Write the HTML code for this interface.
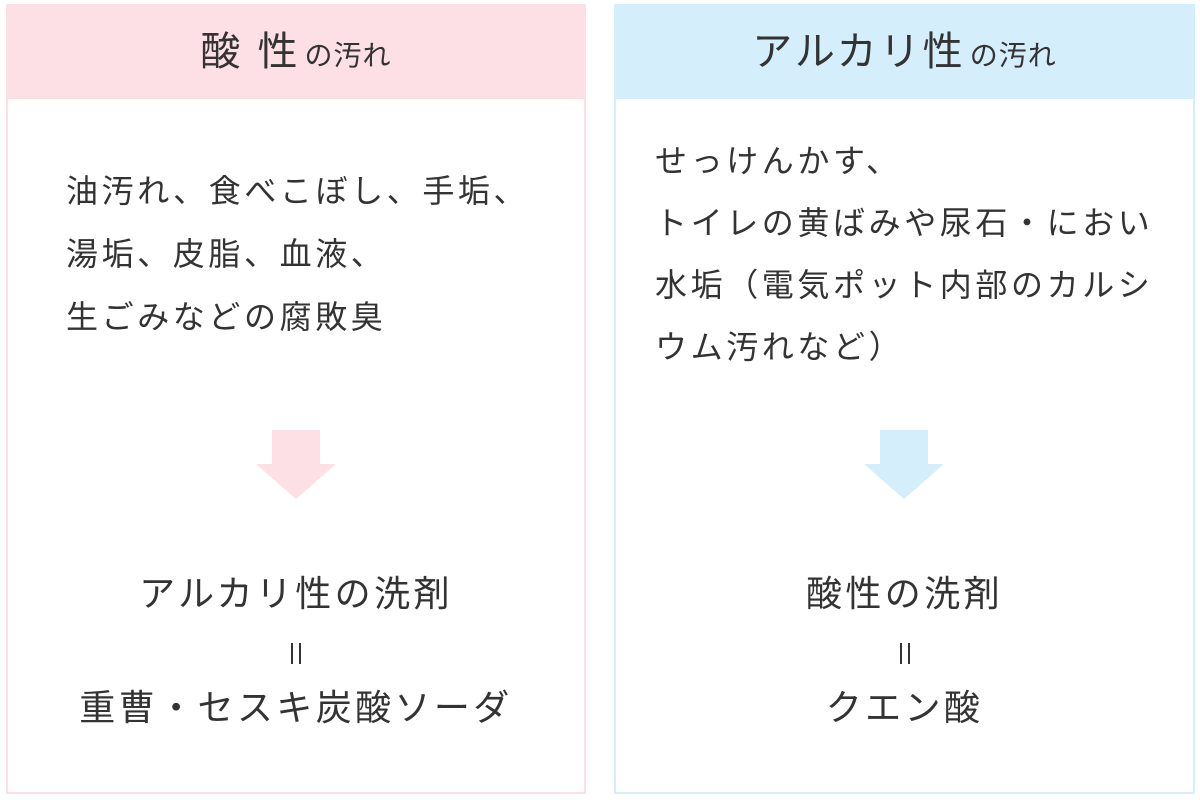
<!DOCTYPE html>
<html><head><meta charset="utf-8"><style>
html,body{margin:0;padding:0;background:#fff;}
body{width:1200px;height:800px;position:relative;overflow:hidden;font-family:"Liberation Sans","Noto Sans CJK JP",sans-serif;color:#333;}
.box{position:absolute;top:4px;height:790px;box-sizing:border-box;border:2px solid;}
.l{left:6px;width:580px;border-color:#fde0e6;}
.r{left:614px;width:581px;border-color:#d4eefb;}
.hd{position:absolute;left:-2px;right:-2px;top:-2px;height:95px;display:flex;align-items:baseline;justify-content:center;padding-top:24px;box-sizing:border-box;}
.l .hd{background:#fde0e6;}
.r .hd{background:#d4eefb;}
.big{font-size:40px;letter-spacing:3px;line-height:48px;}
.sm{font-size:28px;margin-left:4px;letter-spacing:1px;}
.t{position:absolute;white-space:nowrap;font-size:32px;letter-spacing:3.6px;line-height:62px;}
.res{position:absolute;text-align:center;font-size:36px;letter-spacing:3.4px;line-height:57px;white-space:nowrap;}
.eq{display:inline-block;width:6px;height:21px;border-left:2px solid #333;border-right:2px solid #333;vertical-align:middle;}
svg{position:absolute;}
</style></head><body>
<div class="box l"><div class="hd"><span class="big">酸 性</span><span class="sm">の汚れ</span></div></div>
<div class="box r"><div class="hd"><span class="big">アルカリ性</span><span class="sm">の汚れ</span></div></div>

<div class="t" style="left:66px;top:160px;line-height:63px;">油汚れ、食べこぼし、手垢、<br>湯垢、皮脂、血液、<br>生ごみなどの腐敗臭</div>
<div class="t" style="left:655px;top:130px;">せっけんかす、<br>トイレの黄ばみや尿石・におい<br>水垢（電気ポット内部のカルシ<br>ウム汚れなど）</div>

<svg style="left:0;top:0" width="1200" height="800">
<polygon points="272,430 320,430 320,464 336,464 296,499 256,464 272,464" fill="#fde0e6"/>
<polygon points="880,430 928,430 928,464 944,464 904,499 864,464 880,464" fill="#d4eefb"/>
</svg>

<div class="res" style="left:6px;width:580px;top:565px;">アルカリ性の洗剤<br><span class="eq"></span><br>重曹・セスキ炭酸ソーダ</div>
<div class="res" style="left:614px;width:581px;top:565px;">酸性の洗剤<br><span class="eq"></span><br>クエン酸</div>
</body></html>
